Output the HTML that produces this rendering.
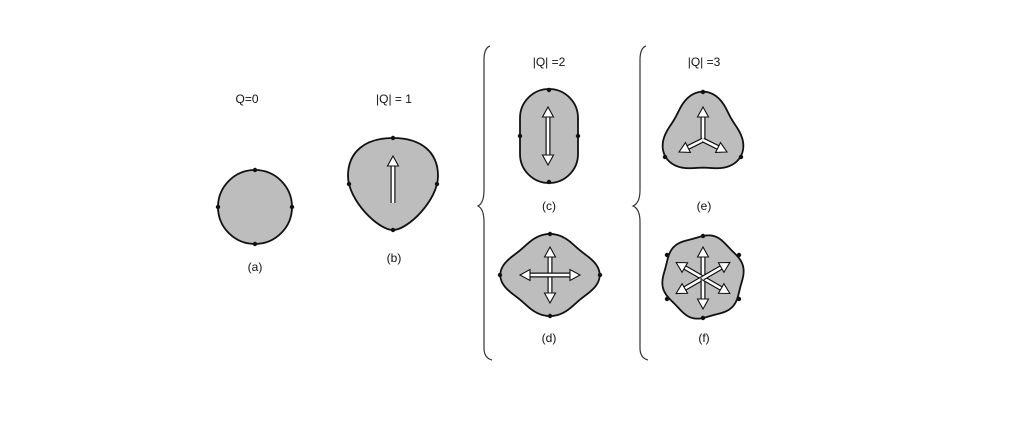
<!DOCTYPE html>
<html><head><meta charset="utf-8"><style>
body{margin:0;background:#fff;width:1031px;height:424px;overflow:hidden}
svg{display:block}
text{font-family:"Liberation Sans",sans-serif;font-size:12px;fill:#111;text-anchor:middle}
</style></head><body>
<svg id="s" width="1031" height="424" viewBox="0 0 1031 424">
<rect width="1031" height="424" fill="#fff"/>
<g id="shapes" fill="#bdbdbd" stroke="#111" stroke-width="1.8">
<path d="M393,138 C421,138 438,152 438,176 C438,200 408,230 393,230 C378,230 348,200 348,176 C348,152 365,138 393,138 Z"/>
</g>
<g id="arrows"></g>
<g id="marks" fill="#111"></g>
<path d="M490,46 Q484,48 484,60 L484,190 Q484,203 478,206 Q484,209 484,222 L484,348 Q484,358 492,360" fill="none" stroke="#333" stroke-width="1.2"/>
<path d="M646,46 Q640,48 640,60 L640,190 Q640,203 633,206 Q640,209 640,222 L640,348 Q640,358 648,360" fill="none" stroke="#333" stroke-width="1.2"/>
<text x="247" y="103">Q=0</text>
<text x="394" y="103">|Q| = 1</text>
<text x="549" y="66">|Q| =2</text>
<text x="704" y="66">|Q| =3</text>
<text x="255" y="271">(a)</text>
<text x="394" y="262">(b)</text>
<text x="549" y="210">(c)</text>
<text x="549" y="342">(d)</text>
<text x="704" y="210">(e)</text>
<text x="704" y="342">(f)</text>
</svg>
<script>
var NS="http://www.w3.org/2000/svg";
function el(p,t,a){var e=document.createElementNS(NS,t);for(var k in a)e.setAttribute(k,a[k]);document.getElementById(p).appendChild(e);return e;}
function polar(cx,cy,rx,ry,f){var d="";for(var i=0;i<=360;i++){var t=i*Math.PI/180;var r=f(t);var x=cx+rx*r*Math.cos(t),y=cy-ry*r*Math.sin(t);d+=(i?"L":"M")+x.toFixed(2)+","+y.toFixed(2);}return d+"Z";}
function mark(x,y){el("marks","circle",{cx:x,cy:y,r:2.2});}
el("shapes","circle",{cx:255,cy:207,r:37});
mark(255,170);mark(255,244);mark(218,207);mark(292,207);
mark(393,138);mark(393,230);mark(349,184);mark(437,184);
el("shapes","path",{d:"M520,118 A29,29 0 0 1 578,118 L578,154 A29,29 0 0 1 520,154 Z"});
mark(549,90);mark(549,182);mark(520,136);mark(578,136);
el("shapes","path",{d:polar(550,275,46,38,function(t){return 1+0.08*Math.cos(4*t);})});
mark(550,234);mark(550,316);mark(500,275);mark(600,275);
el("shapes","path",{d:polar(703,135,38,38,function(t){return 1+0.14*Math.cos(3*(t-Math.PI/2));})});
mark(703,92);mark(665,157);mark(741,157);
el("shapes","path",{d:polar(703,277,40,41,function(t){return 1+0.035*Math.cos(6*t-Math.PI/2);})});
mark(703,236);mark(703,318);mark(667,255);mark(739,255);mark(667,299);mark(739,299);
function arrow(x1,y1,x2,y2){
 var dx=x2-x1,dy=y2-y1,L=Math.hypot(dx,dy),ux=dx/L,uy=dy/L,px=-uy,py=ux,h=10,w=5.5;
 var bx=x2-ux*h,by=y2-uy*h;
 el("arrows","line",{x1:x1,y1:y1,x2:bx,y2:by,stroke:"#111","stroke-width":5});
 el("arrows","line",{x1:x1,y1:y1,x2:bx+ux,y2:by+uy,stroke:"#fff","stroke-width":2.6});
 el("arrows","path",{d:"M"+x2+","+y2+"L"+(bx+px*w)+","+(by+py*w)+"L"+(bx-px*w)+","+(by-py*w)+"Z",fill:"#fff",stroke:"#111","stroke-width":1.1});
}
arrow(393,203,393,156);
arrow(548,136,548,107);arrow(548,136,548,165);
arrow(550,275,550,247);arrow(550,275,550,303);arrow(550,275,520,275);arrow(550,275,580,275);
arrow(703,140,703,107);arrow(703,140,679,152);arrow(703,140,727,152);
var c=[703,278],R=31;
for(var k=0;k<6;k++){var a=Math.PI/2+k*Math.PI/3;arrow(c[0],c[1],c[0]+R*Math.cos(a),c[1]-R*Math.sin(a));}
</script>
</body></html>
